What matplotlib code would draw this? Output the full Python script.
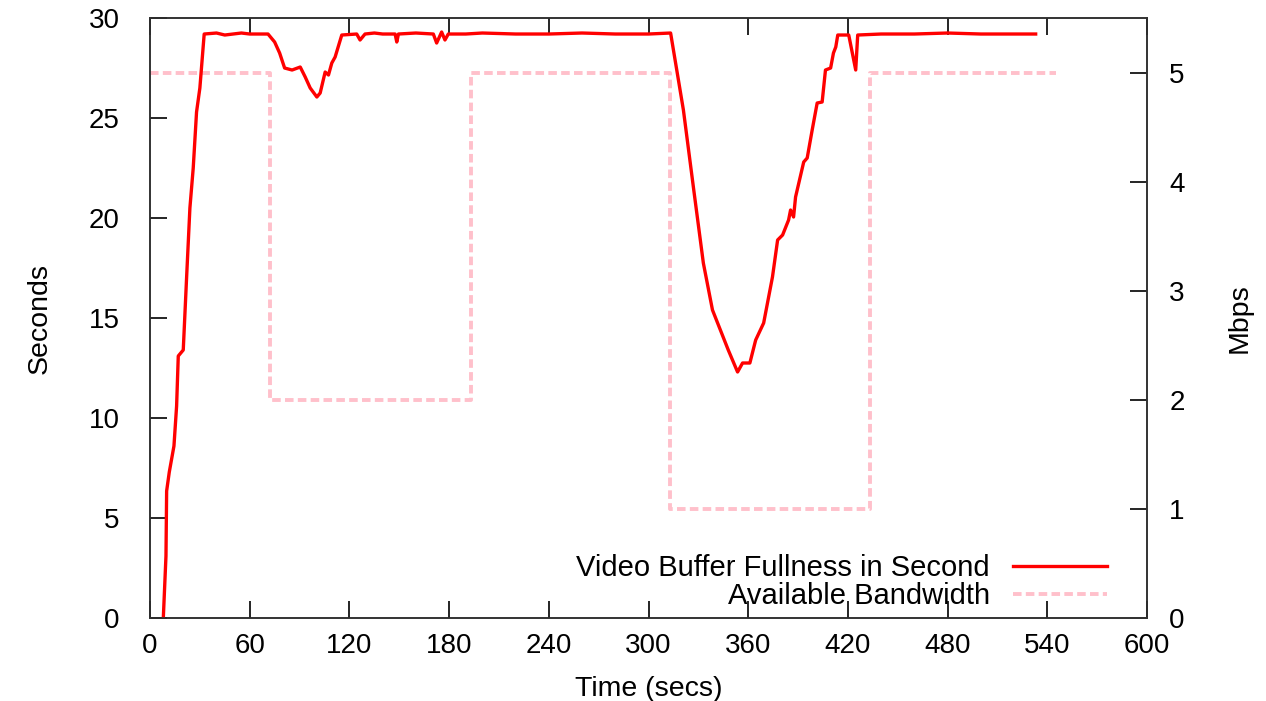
import matplotlib.pyplot as plt

plt.rcParams['font.family'] = ['Liberation Sans', 'DejaVu Sans']

# buffer fullness (seconds) over time
buf_t = [8, 9.6, 10, 11.6, 14.4, 16, 17, 20, 22, 24, 26, 28, 30, 32.6,
         40, 45, 50, 55, 60, 65, 71, 75, 78, 81, 85.5, 90.4, 93.4, 96.4,
         100.4, 102.4, 105.4, 107.4, 109.4, 111.4, 115.4, 124.4, 126.4,
         129.4, 135, 140, 147.5, 148.5, 149.5, 160, 170.5, 172.5, 175.5,
         177.5, 179.5, 190, 200, 220, 240, 260, 280, 300, 313.3, 321, 327,
         333, 338.5, 348, 353.6, 356.6, 361, 364.5, 369.3, 374.6, 377.7,
         380.7, 384.3, 385.5, 387.3, 388.5, 393.4, 395.5, 398.5, 401.5,
         404.5, 406.5, 409.6, 411.3, 412.7, 413.9, 420.5, 424.7, 425.9,
         440, 460, 480, 500, 520, 533]
buf_v = [0, 3.1, 6.35, 7.3, 8.6, 10.6, 13.1, 13.4, 17.0, 20.5, 22.5, 25.3,
         26.5, 29.2, 29.25, 29.15, 29.2, 29.25, 29.2, 29.2, 29.2, 28.8,
         28.25, 27.5, 27.4, 27.55, 27.05, 26.5, 26.05, 26.25, 27.3, 27.15,
         27.75, 28.05, 29.15, 29.2, 28.9, 29.2, 29.25, 29.2, 29.2, 28.8,
         29.2, 29.25, 29.2, 28.75, 29.3, 28.9, 29.2, 29.2, 29.25, 29.2,
         29.2, 29.25, 29.2, 29.2, 29.25, 25.4, 21.55, 17.75, 15.4, 13.4,
         12.3, 12.75, 12.75, 13.9, 14.75, 17.05, 18.9, 19.15, 19.9, 20.4,
         20.05, 21.05, 22.8, 23.0, 24.4, 25.75, 25.8, 27.4, 27.5, 28.25,
         28.55, 29.15, 29.15, 27.4, 29.15, 29.2, 29.2, 29.25, 29.2, 29.2,
         29.2]

# available bandwidth (Mbps), step changes
bw_t = [0, 72, 193, 313, 433, 545]
bw_v = [5, 2, 5, 1, 5, 5]

fig = plt.figure(figsize=(12.66, 7.01), dpi=100)
ax = fig.add_axes([0.1185, 0.1184, 0.7875, 0.8559])
ax2 = ax.twinx()
ax.set_zorder(ax2.get_zorder() + 1)
ax.patch.set_visible(False)

l1, = ax.plot(buf_t, buf_v, color='red', lw=2.4,
              label='Video Buffer Fullness in Second')
l2, = ax2.plot(bw_t, bw_v, color='pink', lw=2.8, ls=(0, (2.2, 1.1)),
               drawstyle='steps-post', label='Available Bandwidth')

ax.set_xlim(0, 600)
ax.set_ylim(0, 30)
ax2.set_ylim(0, 5.5)
ax.set_xticks(range(0, 601, 60))
ax.set_yticks(range(0, 31, 5))
ax2.set_yticks(range(0, 6))

ax.tick_params(axis='both', direction='in', length=12, width=1.2,
               labelsize=20, top=True)
ax.tick_params(axis='y', right=False, pad=22)
ax.tick_params(axis='x', pad=11)
ax2.tick_params(axis='y', direction='in', length=12, width=1.2,
                labelsize=20, pad=16)
for a in (ax, ax2):
    for s in a.spines.values():
        s.set_linewidth(1.2)
        s.set_color('#333333')

ax.set_xlabel('Time (secs)', fontsize=20.5, labelpad=12)
ax.set_ylabel('Seconds', fontsize=20.5, labelpad=26)
ax2.set_ylabel('Mbps', fontsize=20.5, labelpad=30)

ax.legend(handles=[l1, l2], loc='lower right', frameon=False,
          markerfirst=False, fontsize=21, handlelength=3.2,
          labelspacing=0.0, borderaxespad=0.5, bbox_to_anchor=(0.986, -0.031))
for t in ax.get_legend().get_texts():
    t.set_ha('right')

fig.savefig('out.png', dpi=100)
